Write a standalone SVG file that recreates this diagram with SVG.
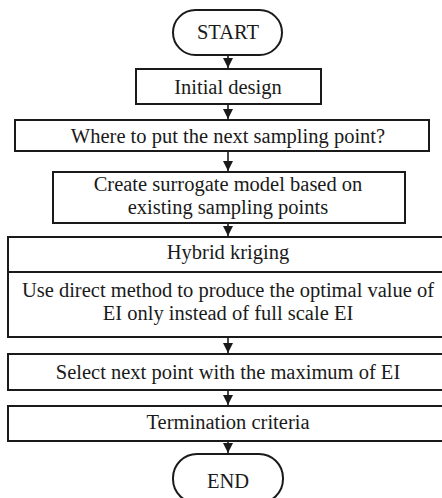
<svg xmlns="http://www.w3.org/2000/svg" width="442" height="498" viewBox="0 0 442 498">
<style>
.box{fill:#fff;stroke:#1a1a1a;stroke-width:2}
.ln{stroke:#1a1a1a;stroke-width:1.6;fill:none}
text{font-family:"Liberation Serif","Times New Roman",serif;font-size:20.5px;fill:#1a1a1a;text-anchor:middle}
</style>
<defs>
<marker id="ah" markerWidth="11" markerHeight="11" refX="10" refY="5.5" orient="auto" markerUnits="userSpaceOnUse">
<path d="M0,0.5 L10,5.5 L0,10.5 Z" fill="#1a1a1a"/>
</marker>
</defs>
<rect width="442" height="498" fill="#fff"/>
<g id="connectors">
<line class="ln" x1="228" y1="55" x2="228" y2="68" marker-end="url(#ah)"/>
<line class="ln" x1="228" y1="104" x2="228" y2="119" marker-end="url(#ah)"/>
<line class="ln" x1="228" y1="151" x2="228" y2="171" marker-end="url(#ah)"/>
<line class="ln" x1="228" y1="223" x2="228" y2="236" marker-end="url(#ah)"/>
<line class="ln" x1="228" y1="337" x2="228" y2="353" marker-end="url(#ah)"/>
<line class="ln" x1="228" y1="390" x2="228" y2="405" marker-end="url(#ah)"/>
<line class="ln" x1="228" y1="441" x2="228" y2="453" marker-end="url(#ah)"/>
</g>
<g id="start">
<rect class="box" x="173" y="10" width="109" height="45" rx="22.5"/>
<text x="228" y="39">START</text>
</g>
<g id="initial">
<rect class="box" x="136" y="69" width="185" height="35"/>
<text x="228" y="94">Initial design</text>
</g>
<g id="where">
<rect class="box" x="15" y="120" width="414" height="31"/>
<text x="228" y="143">Where to put the next sampling point?</text>
</g>
<g id="create">
<rect class="box" x="53" y="172" width="352" height="51"/>
<text x="228" y="191">Create surrogate model based on</text>
<text x="228" y="214">existing sampling points</text>
</g>
<g id="hybrid">
<rect class="box" x="8" y="237" width="440" height="100"/>
<line class="box" x1="8" y1="272" x2="448" y2="272"/>
<text x="228" y="259">Hybrid kriging</text>
<text x="228" y="297">Use direct method to produce the optimal value of</text>
<text x="228" y="320">EI only instead of full scale EI</text>
</g>
<g id="select">
<rect class="box" x="8" y="354" width="440" height="36"/>
<text x="228" y="379">Select next point with the maximum of EI</text>
</g>
<g id="termination">
<rect class="box" x="8" y="406" width="440" height="35"/>
<text x="228" y="429">Termination criteria</text>
</g>
<g id="end">
<rect class="box" x="173" y="454" width="110" height="49" rx="24"/>
<text x="228" y="488">END</text>
</g>
</svg>
